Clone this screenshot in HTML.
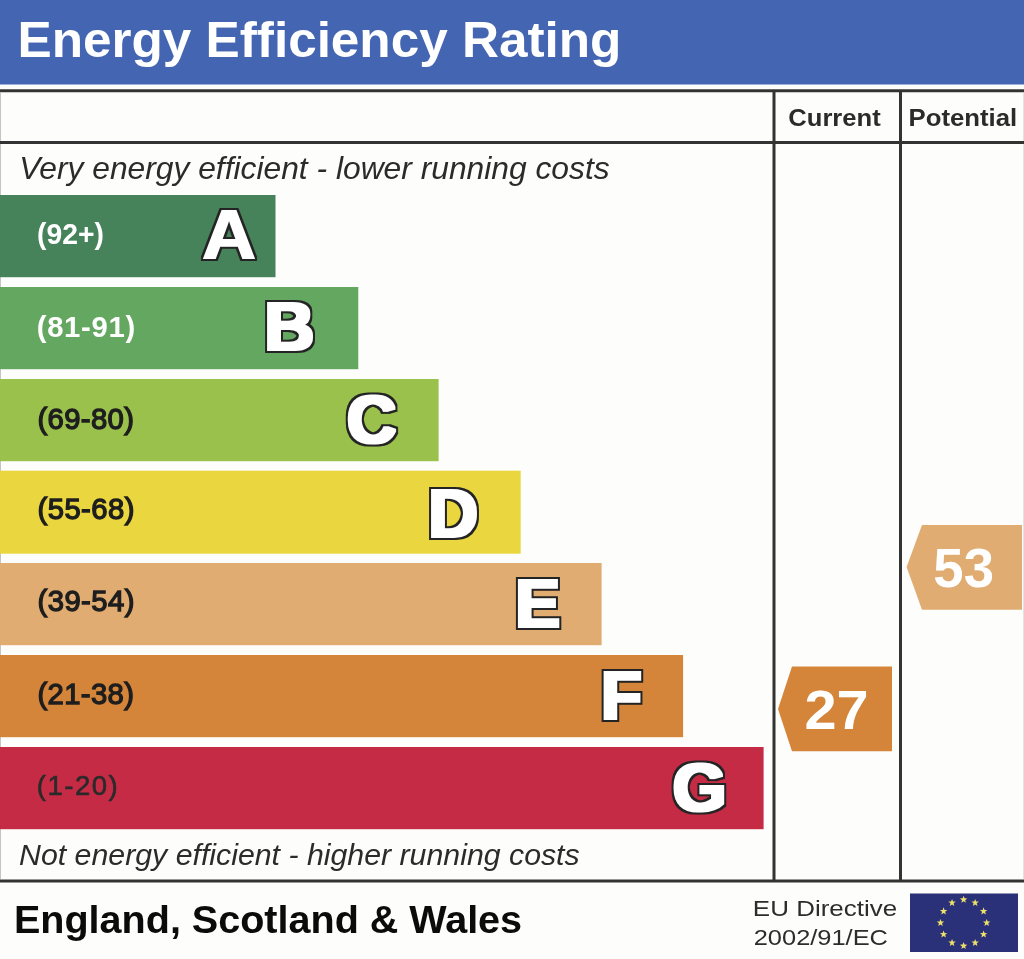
<!DOCTYPE html>
<html lang="en">
<head>
<meta charset="utf-8">
<title>Energy Efficiency Rating</title>
<style>
html,body{margin:0;padding:0;background:#fdfdfb;}
body{width:1024px;height:959px;overflow:hidden;font-family:"Liberation Sans",Arial,sans-serif;}
svg{display:block;}
text{font-family:"Liberation Sans",Arial,sans-serif;}
.big{font-weight:700;fill:#fff;}
.ln{stroke:#333;stroke-width:3;}
</style>
</head>
<body>
<svg width="1024" height="959" viewBox="0 0 1024 959">
<defs>
<filter id="ol" x="-20%" y="-20%" width="140%" height="140%" color-interpolation-filters="sRGB">
<feMorphology in="SourceAlpha" operator="dilate" radius="1 0" result="w"/>
<feMorphology in="w" operator="dilate" radius="2 2" result="o"/>
<feFlood flood-color="#242424" result="dk"/>
<feComposite in="dk" in2="o" operator="in" result="dko"/>
<feFlood flood-color="#ffffff" result="wh"/>
<feComposite in="wh" in2="w" operator="in" result="whw"/>
<feMerge><feMergeNode in="dko"/><feMergeNode in="whw"/></feMerge>
</filter>
<filter id="ol2" x="-20%" y="-20%" width="140%" height="140%" color-interpolation-filters="sRGB">
<feMorphology in="SourceAlpha" operator="dilate" radius="2 1" result="w"/>
<feMorphology in="w" operator="dilate" radius="2 2" result="o"/>
<feFlood flood-color="#242424" result="dk"/>
<feComposite in="dk" in2="o" operator="in" result="dko"/>
<feFlood flood-color="#ffffff" result="wh"/>
<feComposite in="wh" in2="w" operator="in" result="whw"/>
<feMerge><feMergeNode in="dko"/><feMergeNode in="whw"/></feMerge>
</filter>
</defs>
<rect x="0" y="0" width="1024" height="959" fill="#fdfdfb"/>
<rect x="0" y="0" width="1024" height="84.5" fill="#4466b2"/>
<line x1="0.5" y1="93" x2="0.5" y2="879" stroke="#c4c4c4" stroke-width="1"/>
<line x1="1023.5" y1="93" x2="1023.5" y2="879" stroke="#e2e2e2" stroke-width="1"/>
<line class="ln" x1="0" y1="90.8" x2="1024" y2="90.8"/>
<line class="ln" x1="0" y1="142.5" x2="1024" y2="142.5"/>
<line class="ln" x1="0" y1="881" x2="1024" y2="881"/>
<line class="ln" x1="774" y1="90" x2="774" y2="881"/>
<line class="ln" x1="900.5" y1="90" x2="900.5" y2="881"/>

<rect x="0" y="195" width="275.5" height="82.2" fill="#46825a"/>
<rect x="0" y="287" width="358.3" height="82.2" fill="#64a760"/>
<rect x="0" y="379" width="438.6" height="82.2" fill="#99c14c"/>
<rect x="0" y="470.7" width="520.7" height="83" fill="#ead63e"/>
<rect x="0" y="563" width="601.6" height="82.2" fill="#e0ac72"/>
<rect x="0" y="655" width="683.1" height="82.2" fill="#d5853a"/>
<rect x="0" y="747" width="763.6" height="82.2" fill="#c62b45"/>
<polygon points="778,709 792,666.5 892,666.5 892,751.2 792,751.2" fill="#d5853a"/>
<polygon points="906.6,567 922,525 1022,525 1022,609.8 922,609.8" fill="#e0ac72"/>
<text transform="translate(17.57,56.8) scale(1.0350,1)" font-size="49.6" font-weight="700" letter-spacing="-0.035" fill="#fff" >Energy Efficiency Rating</text>
<text transform="translate(788.35,125.8) scale(1.0439,1)" font-size="24.5" font-weight="700" fill="#2b2b2b" >Current</text>
<text transform="translate(908.48,125.8) scale(1.0511,1)" font-size="24.5" font-weight="700" fill="#2b2b2b" >Potential</text>
<text transform="translate(19.25,179) scale(1.0256,1)" font-size="31" font-style="italic" fill="#2b2b2b" >Very energy efficient - lower running costs</text>
<text transform="translate(19.07,864.7) scale(1.0304,1)" font-size="29.4" font-style="italic" fill="#2b2b2b" >Not energy efficient - higher running costs</text>
<text transform="translate(13.95,933) scale(1.0271,1)" font-size="38.5" font-weight="700" fill="#0b0b0b" >England, Scotland &amp; Wales</text>
<text transform="translate(752.87,916) scale(1.1493,1)" font-size="22.6" fill="#2c2c2c" >EU Directive</text>
<text transform="translate(753.72,945) scale(1.1250,1)" font-size="22.6" fill="#2c2c2c" >2002/91/EC</text>
<text transform="translate(933.32,587) scale(0.9736,1)" font-size="56" font-weight="700" fill="#fff" >53</text>
<text transform="translate(804.40,729) scale(1.0296,1)" font-size="56" font-weight="700" fill="#fff" >27</text>
<text transform="translate(36.99,244) scale(0.9875,1)" font-size="28.7" font-weight="700" fill="#fff" >(92+)</text>
<text transform="translate(36.74,336.7) scale(1.0200,1)" font-size="28.7" font-weight="700" letter-spacing="0.668" fill="#fff" >(81-91)</text>
<text transform="translate(37.38,429) scale(1.0200,1)" font-size="28.7" letter-spacing="0.376" fill="#1e1e1e" stroke="#1e1e1e" stroke-width="1.3">(69-80)</text>
<text transform="translate(37.58,519) scale(1.0200,1)" font-size="28.7" letter-spacing="0.409" fill="#1e1e1e" stroke="#1e1e1e" stroke-width="1.3">(55-68)</text>
<text transform="translate(37.58,610.8) scale(1.0200,1)" font-size="28.7" letter-spacing="0.409" fill="#1e1e1e" stroke="#1e1e1e" stroke-width="1.3">(39-54)</text>
<text transform="translate(37.38,703.5) scale(1.0200,1)" font-size="28.7" letter-spacing="0.376" fill="#1e1e1e" stroke="#1e1e1e" stroke-width="1.3">(21-38)</text>
<text transform="translate(36.69,794.5) scale(1.0000,1)" font-size="27.5" letter-spacing="1.531" fill="#2a2a2a" stroke="#2a2a2a" stroke-width="0.6">(1-20)</text>
<text class="big" filter="url(#ol)" font-size="70" transform="translate(201.94,258.5) scale(1.0689,1)">A</text>
<text class="big" filter="url(#ol2)" font-size="68.6" transform="translate(264.60,350.3) scale(1.0015,1)">B</text>
<text class="big" filter="url(#ol2)" font-size="68.6" transform="translate(347.11,443.3) scale(0.9922,1)">C</text>
<text class="big" filter="url(#ol2)" font-size="68.6" transform="translate(428.53,536.5) scale(0.9959,1)">D</text>
<text class="big" filter="url(#ol2)" font-size="68.6" transform="translate(515.55,626.5) scale(0.9692,1)">E</text>
<text class="big" filter="url(#ol2)" font-size="68.6" transform="translate(601.18,719.0) scale(0.9626,1)">F</text>
<text class="big" filter="url(#ol2)" font-size="68.6" transform="translate(672.87,810.5) scale(1.0067,1)">G</text>
<rect x="910" y="893.5" width="108" height="58.5" fill="#2b3179"/>
<polygon points="986.70,918.90 987.66,921.47 990.41,921.59 988.26,923.31 988.99,925.96 986.70,924.44 984.41,925.96 985.14,923.31 982.99,921.59 985.74,921.47" fill="#ece06a"/>
<polygon points="983.61,930.45 984.57,933.02 987.31,933.14 985.16,934.86 985.90,937.51 983.61,935.99 981.31,937.51 982.05,934.86 979.90,933.14 982.64,933.02" fill="#ece06a"/>
<polygon points="975.15,938.91 976.11,941.48 978.86,941.60 976.71,943.31 977.44,945.96 975.15,944.44 972.86,945.96 973.59,943.31 971.44,941.60 974.19,941.48" fill="#ece06a"/>
<polygon points="963.60,942.00 964.56,944.57 967.31,944.69 965.16,946.41 965.89,949.06 963.60,947.54 961.31,949.06 962.04,946.41 959.89,944.69 962.64,944.57" fill="#ece06a"/>
<polygon points="952.05,938.91 953.01,941.48 955.76,941.60 953.61,943.31 954.34,945.96 952.05,944.44 949.76,945.96 950.49,943.31 948.34,941.60 951.09,941.48" fill="#ece06a"/>
<polygon points="943.59,930.45 944.56,933.02 947.30,933.14 945.15,934.86 945.89,937.51 943.59,935.99 941.30,937.51 942.04,934.86 939.89,933.14 942.63,933.02" fill="#ece06a"/>
<polygon points="940.50,918.90 941.46,921.47 944.21,921.59 942.06,923.31 942.79,925.96 940.50,924.44 938.21,925.96 938.94,923.31 936.79,921.59 939.54,921.47" fill="#ece06a"/>
<polygon points="943.59,907.35 944.56,909.92 947.30,910.04 945.15,911.76 945.89,914.41 943.59,912.89 941.30,914.41 942.04,911.76 939.89,910.04 942.63,909.92" fill="#ece06a"/>
<polygon points="952.05,898.89 953.01,901.47 955.76,901.59 953.61,903.30 954.34,905.95 952.05,904.43 949.76,905.95 950.49,903.30 948.34,901.59 951.09,901.47" fill="#ece06a"/>
<polygon points="963.60,895.80 964.56,898.37 967.31,898.49 965.16,900.21 965.89,902.86 963.60,901.34 961.31,902.86 962.04,900.21 959.89,898.49 962.64,898.37" fill="#ece06a"/>
<polygon points="975.15,898.89 976.11,901.47 978.86,901.59 976.71,903.30 977.44,905.95 975.15,904.43 972.86,905.95 973.59,903.30 971.44,901.59 974.19,901.47" fill="#ece06a"/>
<polygon points="983.61,907.35 984.57,909.92 987.31,910.04 985.16,911.76 985.90,914.41 983.61,912.89 981.31,914.41 982.05,911.76 979.90,910.04 982.64,909.92" fill="#ece06a"/>
</svg>
</body>
</html>
